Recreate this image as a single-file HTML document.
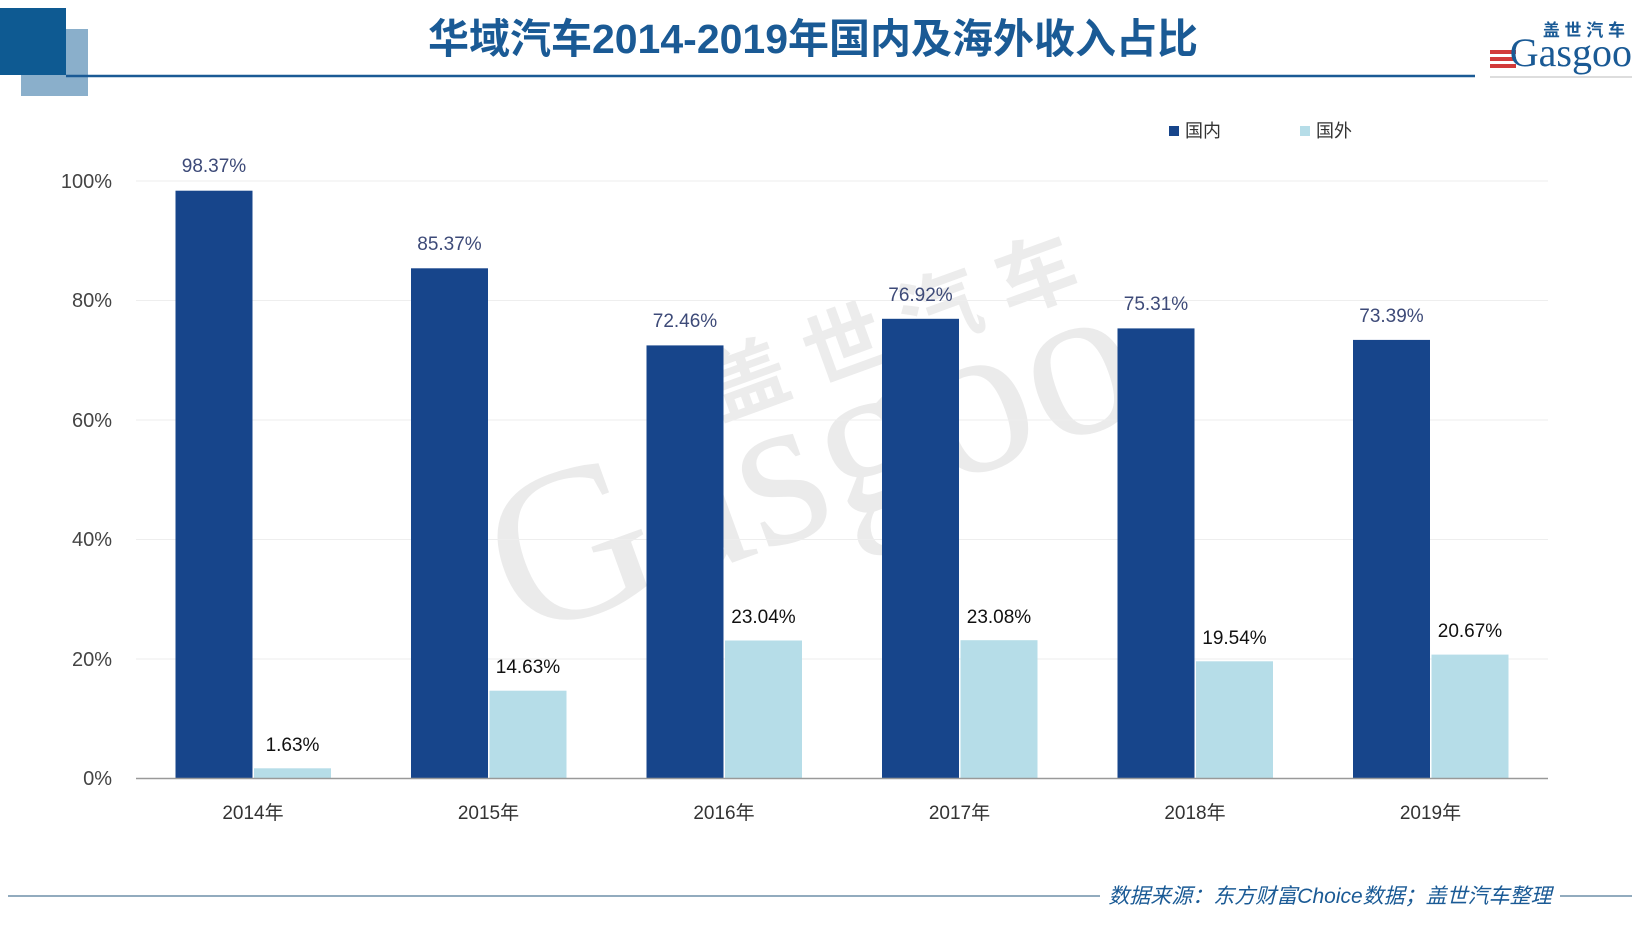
<!DOCTYPE html>
<html><head><meta charset="utf-8"><style>
body{margin:0;width:1640px;height:923px;background:#fff;overflow:hidden;font-family:"Liberation Sans","Noto Sans CJK SC",sans-serif;}
</style></head><body>
<svg width="1640" height="923" xmlns="http://www.w3.org/2000/svg" font-family="Liberation Sans, Noto Sans CJK SC, sans-serif">
<rect x="21" y="29" width="67" height="67" fill="#8aafcb"/>
<rect x="0" y="8" width="66" height="67" fill="#0e5a92"/>
<line x1="66" y1="76" x2="1475" y2="76" stroke="#1a5a95" stroke-width="2.5"/>
<text x="813" y="53" text-anchor="middle" font-size="41" font-weight="bold" fill="#1a5a95">华域汽车2014-2019年国内及海外收入占比</text>
<!-- logo -->
<text x="1625" y="36" text-anchor="end" font-size="17" font-weight="bold" fill="#1a5a95">盖 世 汽 车</text>
<rect x="1490" y="50" width="26" height="4" fill="#d23a3a"/><rect x="1490" y="57" width="26" height="4" fill="#d23a3a"/><rect x="1490" y="64" width="26" height="4" fill="#d23a3a"/>
<text x="1632" y="66" text-anchor="end" font-size="40" font-family="Liberation Serif, serif" fill="#1a5a95">Gasgoo</text>
<line x1="1490" y1="77" x2="1632" y2="77" stroke="#bbb" stroke-width="1"/>
<!-- watermark -->
<text x="520" y="640" font-size="220" font-family="Liberation Serif, serif" fill="#ebebeb" transform="rotate(-20 520 640)">Gasgoo</text>
<text x="720" y="420" font-size="80" font-weight="bold" fill="#ececec" transform="rotate(-20 720 420)">盖 世 汽 车</text>
<!-- grid -->
<g stroke="#eeeeee" stroke-width="1">
<line x1="136" y1="181" x2="1548" y2="181"/><line x1="136" y1="300.5" x2="1548" y2="300.5"/><line x1="136" y1="420" x2="1548" y2="420"/><line x1="136" y1="539.5" x2="1548" y2="539.5"/><line x1="136" y1="659" x2="1548" y2="659"/>
</g>
<g font-size="20" fill="#444" text-anchor="end">
<text x="112" y="188">100%</text><text x="112" y="307">80%</text><text x="112" y="427">60%</text><text x="112" y="546">40%</text><text x="112" y="666">20%</text><text x="112" y="785">0%</text>
</g>
<g fill="#17458b">
<rect x="175.5" y="190.7" width="77" height="587.3"/>
<rect x="411" y="268.3" width="77" height="509.7"/>
<rect x="646.5" y="345.4" width="77" height="432.6"/>
<rect x="882" y="318.8" width="77" height="459.2"/>
<rect x="1117.5" y="328.4" width="77" height="449.6"/>
<rect x="1353" y="339.9" width="77" height="438.1"/>
</g>
<g fill="#b6dde8">
<rect x="254" y="768.3" width="77" height="9.7"/>
<rect x="489.5" y="690.7" width="77" height="87.3"/>
<rect x="725" y="640.5" width="77" height="137.5"/>
<rect x="960.5" y="640.2" width="77" height="137.8"/>
<rect x="1196" y="661.3" width="77" height="116.7"/>
<rect x="1431.5" y="654.6" width="77" height="123.4"/>
</g>
<line x1="136" y1="778.5" x2="1548" y2="778.5" stroke="#999" stroke-width="1.5"/>
<g font-size="19" fill="#3d4a78" text-anchor="middle">
<text x="214" y="172">98.37%</text><text x="449.5" y="250">85.37%</text><text x="685" y="327">72.46%</text><text x="920.5" y="301">76.92%</text><text x="1156" y="310">75.31%</text><text x="1391.5" y="322">73.39%</text>
</g>
<g font-size="19" fill="#111" text-anchor="middle">
<text x="292.5" y="751">1.63%</text><text x="528" y="673">14.63%</text><text x="763.5" y="623">23.04%</text><text x="999" y="623">23.08%</text><text x="1234.5" y="644">19.54%</text><text x="1470" y="637">20.67%</text>
</g>
<g font-size="19" fill="#333" text-anchor="middle">
<text x="253" y="819">2014年</text><text x="488.5" y="819">2015年</text><text x="724" y="819">2016年</text><text x="959.5" y="819">2017年</text><text x="1195" y="819">2018年</text><text x="1430.5" y="819">2019年</text>
</g>
<rect x="1169" y="126" width="10" height="10" fill="#17458b"/><text x="1185" y="137" font-size="18" fill="#333">国内</text>
<rect x="1300" y="126" width="10" height="10" fill="#b6dde8"/><text x="1316" y="137" font-size="18" fill="#333">国外</text>
<line x1="8" y1="896" x2="1632" y2="896" stroke="#6f8fa8" stroke-width="1.5"/>
<rect x="1100" y="880" width="460" height="30" fill="#fff"/>
<text x="1330" y="903" text-anchor="middle" font-size="21" font-style="italic" fill="#1a5a95">数据来源：东方财富Choice数据；盖世汽车整理</text>
</svg>
</body></html>
